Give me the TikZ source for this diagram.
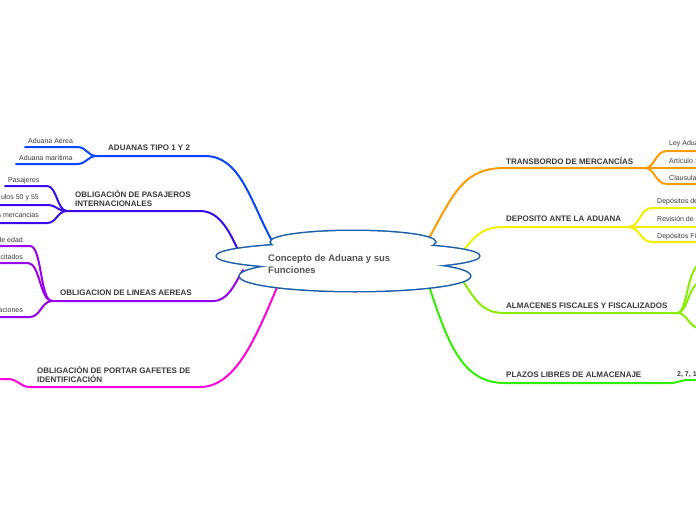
\documentclass[tikz,border=0pt]{standalone}
\usepackage{fontspec}
\setmainfont{Liberation Sans}
\definecolor{cblue}{HTML}{0A46FF}
\definecolor{cindigo}{HTML}{3A0CEA}
\definecolor{cpurple}{HTML}{9A00F0}
\definecolor{cmagenta}{HTML}{FF00E0}
\definecolor{corange}{HTML}{FF9A00}
\definecolor{cyellow}{HTML}{F0F000}
\definecolor{clime}{HTML}{88EE00}
\definecolor{cgreen}{HTML}{33EE00}
\definecolor{ccloud}{HTML}{1B5FAA}
\definecolor{txt}{HTML}{3A3A3A}
\definecolor{ctxt}{HTML}{555555}
\tikzset{
  br/.style={line width=2pt, line cap=round},
  mainlbl/.style={font=\fontsize{8}{9}\selectfont\bfseries, text=txt, anchor=west, inner sep=0pt, align=left},
  sublbl/.style={font=\fontsize{7}{8}\selectfont, text=txt, inner sep=0pt},
  cloudline/.style={draw=ccloud, line width=3pt},
}
\begin{document}
\begin{tikzpicture}[x=1pt,y=-1pt]
\fill[white] (0,0) rectangle (696,520);
\useasboundingbox (0,0) rectangle (696,520);

% ---------- coordinates ----------
\coordinate (c1) at (272,241); \coordinate (e1) at (205,156); \coordinate (j1) at (97,156);
\coordinate (f1a) at (25,147); \coordinate (f1b) at (16,164);
\coordinate (c2) at (238,250); \coordinate (e2) at (200,211); \coordinate (j2) at (67,211);
\coordinate (f2a) at (5,186); \coordinate (f2b) at (0,205); \coordinate (f2c) at (0,223);
\coordinate (c3) at (243,270); \coordinate (e3) at (213,301); \coordinate (j3) at (52,301);
\coordinate (f3a) at (0,246); \coordinate (f3b) at (0,263); \coordinate (f3c) at (0,317);
\coordinate (c4) at (278,285); \coordinate (e4) at (200,387); \coordinate (j4) at (30,387);
\coordinate (f4a) at (0,379);
\coordinate (c5) at (428,240); \coordinate (e5) at (505,168); \coordinate (j5) at (645,168);
\coordinate (f5a) at (700,151); \coordinate (f5b) at (700,168); \coordinate (f5c) at (700,184);
\coordinate (c6) at (463,251); \coordinate (e6) at (505,227); \coordinate (j6) at (628,227);
\coordinate (f6a) at (700,208); \coordinate (f6b) at (700,227); \coordinate (f6c) at (700,242);
\coordinate (c7) at (463,281); \coordinate (e7) at (505,313); \coordinate (j7) at (677,313);
\coordinate (f7a) at (702,262); \coordinate (f7b) at (702,281); \coordinate (f7c) at (702,329);
\coordinate (c8) at (430,289); \coordinate (e8) at (505,383); \coordinate (j8) at (670,383);
\coordinate (f8a) at (700,380);

% ---------- connectors ----------
\draw[br,cblue] (c1) .. controls (250,200) and (240,156) .. (e1) -- (j1);
\draw[br,cblue] (j1) .. controls (87,156) and (87,147) .. (77,147) -- (f1a);
\draw[br,cblue] (j1) .. controls (87,156) and (87,164) .. (77,164) -- (f1b);

\draw[br,cindigo] (c2) .. controls (228,228) and (218,211) .. (e2) -- (j2);
\draw[br,cindigo] (j2) .. controls (57,211) and (57,186) .. (47,186) -- (f2a);
\draw[br,cindigo] (j2) .. controls (57,211) and (57,205) .. (47,205) -- (f2b);
\draw[br,cindigo] (j2) .. controls (57,211) and (57,223) .. (47,223) -- (f2c);

\draw[br,cpurple] (c3) .. controls (234,285) and (228,301) .. (e3) -- (j3);
\draw[br,cpurple] (j3) .. controls (40,301) and (42,246) .. (30,246) -- (f3a);
\draw[br,cpurple] (j3) .. controls (40,301) and (40,263) .. (28,263) -- (f3b);
\draw[br,cpurple] (j3) .. controls (42,301) and (40,317) .. (30,317) -- (f3c);

\draw[br,cmagenta] (c4) .. controls (255,340) and (235,387) .. (e4) -- (j4);
\draw[br,cmagenta] (j4) .. controls (20,387) and (18,379) .. (8,379) -- (f4a);

\draw[br,corange] (c5) .. controls (455,190) and (465,168) .. (e5) -- (j5);
\draw[br,corange] (j5) .. controls (655,168) and (655,151) .. (667,151) -- (f5a);
\draw[br,corange] (j5) -- (f5b);
\draw[br,corange] (j5) .. controls (655,168) and (655,184) .. (667,184) -- (f5c);

\draw[br,cyellow] (c6) .. controls (478,232) and (485,227) .. (e6) -- (j6);
\draw[br,cyellow] (j6) .. controls (640,227) and (640,208) .. (652,208) -- (f6a);
\draw[br,cyellow] (j6) -- (f6b);
\draw[br,cyellow] (j6) .. controls (640,227) and (640,242) .. (652,242) -- (f6c);

\draw[br,clime] (c7) .. controls (478,305) and (485,313) .. (e7) -- (j7);
\draw[br,clime] (j7) .. controls (688,313) and (686,268) .. (f7a);
\draw[br,clime] (j7) .. controls (688,313) and (688,284) .. (f7b);
\draw[br,clime] (j7) .. controls (688,313) and (688,328) .. (f7c);

\draw[br,cgreen] (c8) .. controls (450,350) and (465,383) .. (e8) -- (j8);
\draw[br,cgreen] (j8) .. controls (678,383) and (680,380) .. (688,380) -- (f8a);

% ---------- cloud ----------
\path[cloudline] (353,242) ellipse [x radius=82pt, y radius=11pt];
\path[cloudline] (348,256) ellipse [x radius=131pt, y radius=13pt];
\path[cloudline] (355,276) ellipse [x radius=115pt, y radius=15pt];
\fill[white] (353,242) ellipse [x radius=82pt, y radius=11pt];
\fill[white] (348,256) ellipse [x radius=131pt, y radius=13pt];
\fill[white] (355,276) ellipse [x radius=115pt, y radius=15pt];
\node[font=\fontsize{9.5}{12}\selectfont\bfseries, text=ctxt, anchor=west, align=left, inner sep=0pt]
  (concept) at (268,264) {Concepto de Aduana y sus\\Funciones};

% ---------- labels ----------
\node[mainlbl] (t1) at (108,148) {ADUANAS TIPO 1 Y 2};
\node[sublbl,anchor=west] (s1a) at (28,141) {Aduana Aérea};
\node[sublbl,anchor=west] (s1b) at (19,158) {Aduana marítima};

\node[mainlbl] (t2) at (75,198.5) {OBLIGACIÓN DE PASAJEROS\\INTERNACIONALES};
\node[sublbl,anchor=west] (s2a) at (8,181) {Pasajeros};
\node[sublbl,anchor=east] (s2b) at (39,198) {ulos 50 y 55};
\node[sublbl,anchor=east] (s2c) at (39,215) {s mercancias};

\node[mainlbl] (t3) at (60,293) {OBLIGACION DE LINEAS AEREAS};
\node[sublbl,anchor=east] (s3a) at (23,240) {de edad};
\node[sublbl,anchor=east] (s3b) at (23,257) {citados};
\node[sublbl,anchor=east] (s3c) at (23,310) {aciones};

\node[mainlbl] (t4) at (37,374.5) {OBLIGACIÓN DE PORTAR GAFETES DE\\IDENTIFICACIÓN};

\node[mainlbl] (t5) at (506,161) {TRANSBORDO DE MERCANCÍAS};
\node[sublbl,anchor=west] (s5a) at (669,144) {Ley Adua};
\node[sublbl,anchor=west] (s5b) at (669,161) {Artículo 1};
\node[sublbl,anchor=west] (s5c) at (669,178) {Clausula};

\node[mainlbl] (t6) at (506,219) {DEPOSITO ANTE LA ADUANA};
\node[sublbl,anchor=west] (s6a) at (657,202) {Depósitos de};
\node[sublbl,anchor=west] (s6b) at (657,219) {Revisión de};
\node[sublbl,anchor=west] (s6c) at (657,237) {Depósitos Fi};

\node[mainlbl] (t7) at (506,306) {ALMACENES FISCALES Y FISCALIZADOS};

\node[mainlbl] (t8) at (506,375) {PLAZOS LIBRES DE ALMACENAJE};
\node[sublbl,anchor=west,font=\fontsize{7}{8}\selectfont\bfseries] (s8a) at (677,375) {2, 7, 1};
\end{tikzpicture}
\end{document}
